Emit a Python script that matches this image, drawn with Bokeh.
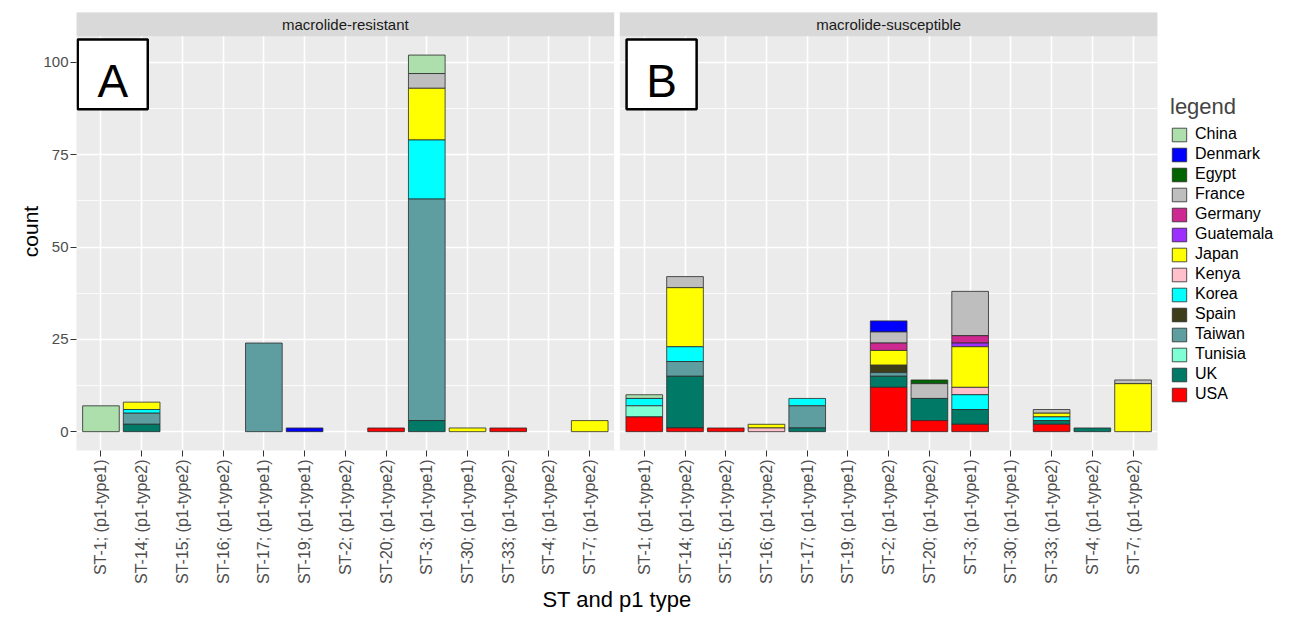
import math
from bokeh.plotting import figure
from bokeh.models import ColumnDataSource, Range1d, FixedTicker, Legend, LegendItem
from bokeh.core.properties import value
from bokeh.embed import file_html
from bokeh.resources import INLINE

FONT = "Liberation Sans"

categories = ["ST-1; (p1-type1)", "ST-14; (p1-type2)", "ST-15; (p1-type2)", "ST-16; (p1-type2)",
              "ST-17; (p1-type1)", "ST-19; (p1-type1)", "ST-2; (p1-type2)", "ST-20; (p1-type2)",
              "ST-3; (p1-type1)", "ST-30; (p1-type1)", "ST-33; (p1-type2)", "ST-4; (p1-type2)",
              "ST-7; (p1-type2)"]
panels = ["macrolide-resistant", "macrolide-susceptible"]
panel_letters = ["A", "B"]
countries = ["China", "Denmark", "Egypt", "France", "Germany", "Guatemala", "Japan",
             "Kenya", "Korea", "Spain", "Taiwan", "Tunisia", "UK", "USA"]
colors = ["#ADDFAD", "#0000FF", "#006400", "#BEBEBE", "#CD2990", "#9B30FF", "#FFFF00",
          "#FFC0CB", "#00FFFF", "#3D3D1A", "#5F9EA0", "#7FFFD4", "#007A67", "#FF0000"]

# macrolide-resistant counts (one value per category)
res_China     = [7, 0, 0, 0, 0, 0, 0, 0, 5, 0, 0, 0, 0]
res_Denmark   = [0, 0, 0, 0, 0, 1, 0, 0, 0, 0, 0, 0, 0]
res_Egypt     = [0, 0, 0, 0, 0, 0, 0, 0, 0, 0, 0, 0, 0]
res_France    = [0, 0, 0, 0, 0, 0, 0, 0, 4, 0, 0, 0, 0]
res_Germany   = [0, 0, 0, 0, 0, 0, 0, 0, 0, 0, 0, 0, 0]
res_Guatemala = [0, 0, 0, 0, 0, 0, 0, 0, 0, 0, 0, 0, 0]
res_Japan     = [0, 2, 0, 0, 0, 0, 0, 0, 14, 1, 0, 0, 3]
res_Kenya     = [0, 0, 0, 0, 0, 0, 0, 0, 0, 0, 0, 0, 0]
res_Korea     = [0, 1, 0, 0, 0, 0, 0, 0, 16, 0, 0, 0, 0]
res_Spain     = [0, 0, 0, 0, 0, 0, 0, 0, 0, 0, 0, 0, 0]
res_Taiwan    = [0, 3, 0, 0, 24, 0, 0, 0, 60, 0, 0, 0, 0]
res_Tunisia   = [0, 0, 0, 0, 0, 0, 0, 0, 0, 0, 0, 0, 0]
res_UK        = [0, 2, 0, 0, 0, 0, 0, 0, 3, 0, 0, 0, 0]
res_USA       = [0, 0, 0, 0, 0, 0, 0, 1, 0, 0, 1, 0, 0]

# macrolide-susceptible counts
sus_China     = [1, 0, 0, 0, 0, 0, 0, 0, 0, 0, 0, 0, 0]
sus_Denmark   = [0, 0, 0, 0, 0, 0, 3, 0, 0, 0, 0, 0, 0]
sus_Egypt     = [0, 0, 0, 0, 0, 0, 0, 1, 0, 0, 0, 0, 0]
sus_France    = [0, 3, 0, 0, 0, 0, 3, 4, 12, 0, 1, 0, 1]
sus_Germany   = [0, 0, 0, 0, 0, 0, 2, 0, 2, 0, 0, 0, 0]
sus_Guatemala = [0, 0, 0, 0, 0, 0, 0, 0, 1, 0, 0, 0, 0]
sus_Japan     = [0, 16, 0, 1, 0, 0, 4, 0, 11, 0, 1, 0, 13]
sus_Kenya     = [0, 0, 0, 1, 0, 0, 0, 0, 2, 0, 0, 0, 0]
sus_Korea     = [2, 4, 0, 0, 2, 0, 0, 0, 4, 0, 1, 0, 0]
sus_Spain     = [0, 0, 0, 0, 0, 0, 2, 0, 0, 0, 0, 0, 0]
sus_Taiwan    = [0, 4, 0, 0, 6, 0, 1, 0, 0, 0, 0, 0, 0]
sus_Tunisia   = [3, 0, 0, 0, 0, 0, 0, 0, 0, 0, 0, 0, 0]
sus_UK        = [0, 14, 0, 0, 1, 0, 3, 6, 4, 0, 1, 1, 0]
sus_USA       = [4, 1, 1, 0, 0, 0, 12, 3, 2, 0, 2, 0, 0]

g = globals()
resistant = {c: g["res_" + c] for c in countries}
susceptible = {c: g["sus_" + c] for c in countries}

# two facets laid out on one numeric axis
n = len(categories)
offset_b = 13.34
pos_A = [i + 1 for i in range(n)]
pos_B = [round(i + 1 + offset_b, 2) for i in range(n)]
pad = 0.6
a_left, a_right = pos_A[0] - pad, pos_A[-1] + pad
b_left, b_right = pos_B[0] - pad, pos_B[-1] + pad
y_lo, y_hi = -5.1, 107.1
y_top = 113.53

p = figure(frame_width=1081, height=615, output_backend="svg", toolbar_location=None,
           x_range=Range1d(a_left, b_right), y_range=Range1d(y_lo, y_top),
           min_border_left=76, min_border_right=119, min_border_top=12, min_border_bottom=0,
           background_fill_color="#EBEBEB", border_fill_color="white", outline_line_color=None)

# white gap between the facets
p.quad(left=[a_right], right=[b_left], bottom=[y_lo - 10], top=[y_top + 10],
       fill_color="white", line_color=None)
# facet strips
p.quad(left=[a_left, b_left], right=[a_right, b_right], bottom=[y_hi, y_hi], top=[y_top + 10] * 2,
       fill_color="#D9D9D9", line_color=None)
p.text(x=[(a_left + a_right) / 2, (b_left + b_right) / 2], y=[(y_hi + y_top) / 2] * 2, text=panels,
       text_align="center", text_baseline="middle", text_font=value(FONT),
       text_font_size=value("15px"), text_color="#1A1A1A")

# stacked bars (USA at the bottom, China on top)
sources = {c: dict(x=[], bottom=[], top=[]) for c in countries}
for pos, data in ((pos_A, resistant), (pos_B, susceptible)):
    for j, x in enumerate(pos):
        base = 0
        for c in reversed(countries):
            v = data[c][j]
            if v > 0:
                sources[c]["x"].append(x)
                sources[c]["bottom"].append(base)
                sources[c]["top"].append(base + v)
                base += v

renderers = {}
for c, col in zip(countries, colors):
    renderers[c] = p.vbar(x="x", bottom="bottom", top="top", width=0.9,
                          source=ColumnDataSource(sources[c]), fill_color=col,
                          line_color="#2B2B2B", line_alpha=0.8, line_width=1)

# panel letter boxes
box_w = 1.72
box_l = [a_left + 0.03, b_left + 0.165]
p.quad(left=box_l, right=[l + box_w for l in box_l],
       top=[106.2, 106.2], bottom=[87.3, 87.3], fill_color="white", line_color="black",
       line_width=2.5)
p.text(x=[l + box_w / 2 for l in box_l], y=[94.9, 94.9], text=panel_letters,
       text_align="center", text_baseline="middle", text_font=value(FONT),
       text_font_size=value("46px"), text_color="black")

# axes
ticks = pos_A + pos_B
p.xaxis.ticker = FixedTicker(ticks=ticks)
p.xaxis.major_label_overrides = {x: c for x, c in zip(ticks, categories * 2)}
p.xaxis.major_label_orientation = math.pi / 2
p.xaxis.axis_label = "ST and p1 type"
p.yaxis.axis_label = "count"
p.yaxis.ticker = FixedTicker(ticks=[0, 25, 50, 75, 100], minor_ticks=[12.5, 37.5, 62.5, 87.5])

for ax in (p.xaxis[0], p.yaxis[0]):
    ax.axis_line_color = None
    ax.major_tick_line_color = "#333333"
    ax.major_tick_in = 0
    ax.major_tick_out = 6
    ax.minor_tick_line_color = None
    ax.major_label_text_font = FONT
    ax.major_label_text_color = "#4D4D4D"
    ax.axis_label_text_font = FONT
    ax.axis_label_text_font_style = "normal"
    ax.axis_label_text_color = "black"

p.xaxis.major_label_text_font_size = "16px"
p.xaxis.major_label_standoff = 3
p.xaxis.axis_label_text_font_size = "22px"
p.xaxis.axis_label_standoff = 0
p.yaxis.major_label_text_font_size = "15px"
p.yaxis.major_label_standoff = 2
p.yaxis.axis_label_text_font_size = "21px"
p.yaxis.axis_label_standoff = -2

p.xgrid.grid_line_color = "white"
p.xgrid.grid_line_width = 1.6
p.ygrid.grid_line_color = "white"
p.ygrid.grid_line_width = 1.6
p.ygrid.minor_grid_line_color = "white"
p.ygrid.minor_grid_line_width = 0.8

legend = Legend(items=[LegendItem(label=c, renderers=[renderers[c]]) for c in countries],
                title="legend", location=(13, 47), orientation="vertical", ncols=1,
                glyph_width=18, glyph_height=17, label_height=17, spacing=2,
                label_standoff=7, padding=0, margin=0, border_line_color=None,
                background_fill_alpha=0, label_text_font=FONT, label_text_font_size="16px",
                label_text_color="black", title_text_font=FONT, title_text_font_size="22px",
                title_text_font_style="normal", title_standoff=5)
p.add_layout(legend, "right")

open("out.html", "w").write(file_html(p, INLINE))
